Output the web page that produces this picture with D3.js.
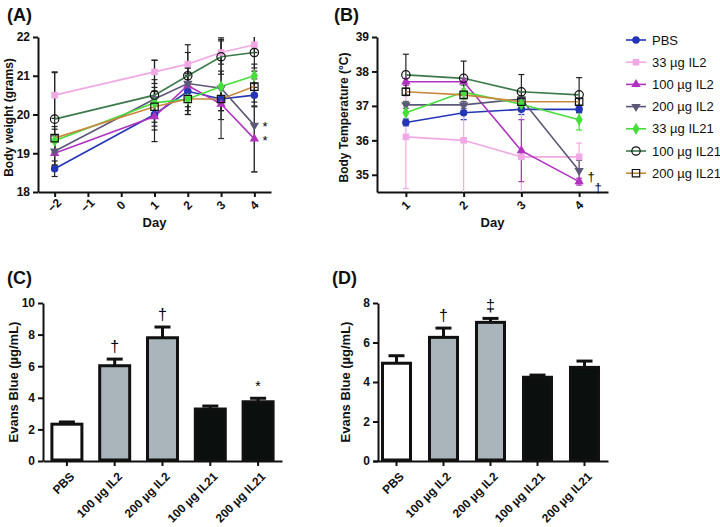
<!DOCTYPE html>
<html>
<head>
<meta charset="utf-8">
<script src="https://cdn.jsdelivr.net/npm/d3@7"></script>
<style>
  body { margin: 0; background: #fff; }
  svg { font-family: "Liberation Sans", Arial, sans-serif; }
  .axis text { font-size: 12px; font-weight: bold; fill: #111; }
  .axis path, .axis line { stroke: #111; stroke-width: 2px; }
  .title { font-weight: bold; fill: #111; }
</style>
</head>
<body>
<script>
// ---- data ----
const seriesNames = ["PBS", "33 µg IL2", "100 µg IL2", "200 µg IL2", "33 µg IL21", "100 µg IL21", "200 µg IL21"]
const seriesColors = ["#2435b6", "#f1a9e5", "#b033c0", "#5c5878", "#45de3a", "#3d7a4b", "#c9883e"]
const seriesShapes = ["circle", "square", "triangle", "triangleDown", "diamond", "openCircle", "openSquare"]

// (A) body weight, days -2,1,2,3,4
const weightDays = [-2, 1, 2, 3, 4]
const weightTicks = [-2, -1, 0, 1, 2, 3, 4]
const weightPBS = [18.6, 20.0, 20.6, 20.4, 20.5]
const weight33IL2 = [20.5, 21.1, 21.3, 21.6, 21.8]
const weight100IL2 = [19.0, 19.95, 20.75, 20.27, 19.37]
const weight200IL2 = [19.05, 20.4, 20.8, 20.68, 19.72]
const weight33IL21 = [19.32, 20.3, 20.4, 20.72, 21.0]
const weight100IL21 = [19.88, 20.5, 21.0, 21.49, 21.6]
const weight200IL21 = [19.39, 20.2, 20.4, 20.4, 20.72]
const weightErrPBS = [0.2, 0.3, 0.6, 0.3, 0.3]
const weightErr33IL2 = [0.6, 0.3, 0.3, 0.3, 0.2]
const weightErr100IL2 = [0.3, 0.65, 0.3, 0.4, 0.85]
const weightErr200IL2 = [0.4, 0.5, 0.4, 1.3, 1.2]
const weightErr33IL21 = [0.3, 0.4, 0.4, 0.4, 0.3]
const weightErr100IL21 = [1.2, 0.9, 0.8, 0.45, 0.4]
const weightErr200IL21 = [0.3, 0.4, 0.3, 0.3, 0.4]

// (B) body temperature, days 1..4
const tempDays = [1, 2, 3, 4]
const tempPBS = [36.52, 36.8, 36.9, 36.9]
const temp33IL2 = [36.1, 36.0, 35.52, 35.52]
const temp100IL2 = [37.7, 37.7, 35.7, 34.8]
const temp200IL2 = [37.03, 37.03, 37.2, 35.12]
const temp33IL21 = [36.8, 37.4, 37.05, 36.6]
const temp100IL21 = [37.9, 37.8, 37.41, 37.32]
const temp200IL21 = [37.41, 37.32, 37.12, 37.12]
const tempErrPBS = [0.1, 0.2, 0.15, 0.1]
const tempErr33IL2 = [1.5, 1.5, 1.7, 0.4]
const tempErr100IL2 = [0.1, 0.1, 0.9, 0.1]
const tempErr200IL2 = [0.1, 0.1, 0.2, 0.3]
const tempErr33IL21 = [0.3, 0.2, 0.2, 0.3]
const tempErr100IL21 = [0.6, 0.5, 0.5, 0.5]
const tempErr200IL21 = [0.1, 0.1, 0.1, 0.1]

// (C), (D) Evans blue
const barGroups = ["PBS", "100 µg IL2", "200 µg IL2", "100 µg IL21", "200 µg IL21"]
const barFills = ["#ffffff", "#a9b5ba", "#a9b5ba", "#0b0f0d", "#0b0f0d"]
const evansC = [2.33, 6.03, 7.8, 3.29, 3.75]
const evansCErr = [0.14, 0.42, 0.68, 0.19, 0.22]
const evansCMarks = ["", "†", "†", "", "*"]
const evansD = [4.95, 6.26, 7.02, 4.24, 4.74]
const evansDErr = [0.38, 0.47, 0.2, 0.11, 0.32]
const evansDMarks = ["", "†", "‡", "", ""]

const weightSeries = [weightPBS, weight33IL2, weight100IL2, weight200IL2, weight33IL21, weight100IL21, weight200IL21]
const weightErrs = [weightErrPBS, weightErr33IL2, weightErr100IL2, weightErr200IL2, weightErr33IL21, weightErr100IL21, weightErr200IL21]
const tempSeries = [tempPBS, temp33IL2, temp100IL2, temp200IL2, temp33IL21, temp100IL21, temp200IL21]
const tempErrs = [tempErrPBS, tempErr33IL2, tempErr100IL2, tempErr200IL2, tempErr33IL21, tempErr100IL21, tempErr200IL21]

const width = 720
const height = 527

const svg = d3.select("body").append("svg")
  .attr("width", width)
  .attr("height", height)

svg.append("rect").attr("width", width).attr("height", height).attr("fill", "#fff")

// marker helper
function drawMarker(g, shape, color) {
  let open = shape === "openCircle" || shape === "openSquare"
  let type = {
    circle: d3.symbolCircle, square: d3.symbolSquare, triangle: d3.symbolTriangle,
    triangleDown: d3.symbolTriangle, diamond: d3.symbolDiamond,
    openCircle: d3.symbolCircle, openSquare: d3.symbolSquare
  }[shape]
  let size = open ? 55 : (shape === "triangle" || shape === "triangleDown" ? 38 : 44)
  g.append("path")
    .attr("d", d3.symbol().type(type).size(size))
    .attr("transform", shape === "triangleDown" ? "rotate(180)" : null)
    .attr("fill", open ? "none" : color)
    .attr("stroke", open ? "#111" : "none")
    .attr("stroke-width", 1.2)
}

function linePanel(opts) {
  let { x, y, days, series, errs, errColors, xTicks, yTicks, yTitle, titleX } = opts
  let g = svg.append("g")

  g.append("g")
    .attr("class", "axis")
    .attr("transform", `translate(0,${y.range()[0]})`)
    .call(d3.axisBottom(x).tickValues(xTicks).tickSize(5).tickSizeOuter(0).tickFormat(d3.format("d")))
    .selectAll("text")
    .attr("y", 0).attr("dy", 0)
    .attr("transform", "translate(0,14) rotate(-45)")
    .style("text-anchor", "middle")
    .attr("dominant-baseline", "middle")

  g.append("g")
    .attr("class", "axis")
    .attr("transform", `translate(${x.range()[0]},0)`)
    .call(d3.axisLeft(y).tickValues(yTicks).tickSize(5).tickSizeOuter(0).tickPadding(3).tickFormat(d3.format("d")))

  let y0 = y.domain()[0], y1 = y.domain()[1]
  let clip = v => Math.max(y0, Math.min(y1, v))

  // error bars
  series.forEach((vals, s) => {
    let eg = g.append("g").attr("stroke", errColors[s]).attr("stroke-width", 1.2)
    vals.forEach((v, i) => {
      let cx = x(days[i])
      let hi = clip(v + errs[s][i]), lo = clip(v - errs[s][i])
      eg.append("line").attr("x1", cx).attr("x2", cx).attr("y1", y(hi)).attr("y2", y(lo))
      ;[hi, lo].forEach(e => {
        if (e > y0 && e < y1) eg.append("line").attr("x1", cx - 3).attr("x2", cx + 3).attr("y1", y(e)).attr("y2", y(e))
      })
    })
  })

  let line = d3.line().x((d, i) => x(days[i])).y(d => y(d))
  series.forEach((vals, s) => {
    g.append("path")
      .datum(vals)
      .attr("d", line)
      .attr("fill", "none")
      .attr("stroke", seriesColors[s])
      .attr("stroke-width", 1.6)
  })
  series.forEach((vals, s) => {
    vals.forEach((v, i) => {
      let m = g.append("g").attr("transform", `translate(${x(days[i])},${y(v)})`)
      drawMarker(m, seriesShapes[s], seriesColors[s])
    })
  })

  g.append("text")
    .attr("class", "title")
    .attr("x", (x.range()[0] + x.range()[1]) / 2)
    .attr("y", 227)
    .attr("text-anchor", "middle")
    .style("font-size", "13px")
    .text("Day")

  g.append("text")
    .attr("class", "title")
    .attr("transform", `translate(${titleX},${(y.range()[0] + y.range()[1]) / 2 + 3}) rotate(-90)`)
    .attr("text-anchor", "middle")
    .style("font-size", "12px")
    .text(yTitle)
  return g
}

function barPanel(opts) {
  let { x, y, values, errs, marks, yTicks, yAxisX, titleX } = opts
  let g = svg.append("g")
  let base = y.range()[0]

  // error bars first (upper only)
  values.forEach((v, i) => {
    let cx = x(barGroups[i]) + x.bandwidth() / 2
    g.append("line").attr("x1", cx).attr("x2", cx).attr("y1", y(v)).attr("y2", y(v + errs[i]))
      .attr("stroke", "#111").attr("stroke-width", 3)
    g.append("line").attr("x1", cx - 8).attr("x2", cx + 8).attr("y1", y(v + errs[i])).attr("y2", y(v + errs[i]))
      .attr("stroke", "#111").attr("stroke-width", 3)
    if (marks[i]) {
      g.append("text")
        .attr("x", cx)
        .attr("y", y(v + errs[i]) - 7)
        .attr("text-anchor", "middle")
        .style("font-size", marks[i] === "*" ? "14px" : "16px")
        .style("fill", "#000")
        .text(marks[i])
    }
  })

  g.selectAll("rect.bar")
    .data(values)
    .join("rect")
    .attr("class", "bar")
    .attr("x", (d, i) => x(barGroups[i]) + 1.5)
    .attr("width", x.bandwidth() - 3)
    .attr("y", d => y(d))
    .attr("height", d => base - y(d) - 1)
    .attr("fill", (d, i) => barFills[i])
    .attr("stroke", "#111")
    .attr("stroke-width", 3)

  g.append("g")
    .attr("class", "axis")
    .attr("transform", `translate(0,${base})`)
    .call(d3.axisBottom(x).tickSize(5).tickSizeOuter(0))
    .selectAll("text")
    .attr("y", 0).attr("dy", 0)
    .attr("transform", "translate(6,14) rotate(-45)")
    .style("text-anchor", "end")
    .attr("dominant-baseline", "middle")

  g.append("g")
    .attr("class", "axis")
    .attr("transform", `translate(${yAxisX},0)`)
    .call(d3.axisLeft(y).tickValues(yTicks).tickSize(5).tickSizeOuter(0).tickPadding(3))

  g.append("text")
    .attr("class", "title")
    .attr("transform", `translate(${titleX},382) rotate(-90)`)
    .attr("text-anchor", "middle")
    .style("font-size", "13px")
    .text("Evans Blue  (µg/mL)")
}

// ---- panel A ----
linePanel({
  x: d3.scaleLinear().domain([-2.5, 4.5]).range([38, 271]),
  y: d3.scaleLinear().domain([18, 22]).range([192, 37]),
  days: weightDays,
  series: weightSeries,
  errs: weightErrs,
  errColors: ["#222", "#222", "#222", "#333", "#222", "#222", "#222"],
  xTicks: weightTicks,
  yTicks: [18, 19, 20, 21, 22],
  yTitle: "Body weight (grams)",
  titleX: 13
})

// ---- panel B ----
linePanel({
  x: d3.scaleLinear().domain([0.5, 4.5]).range([377, 608]),
  y: d3.scaleLinear().domain([34.5, 39]).range([192, 37]),
  days: tempDays,
  series: tempSeries,
  errs: tempErrs,
  errColors: [seriesColors[0], seriesColors[1], seriesColors[2], seriesColors[3], seriesColors[4], "#222", "#222"],
  xTicks: tempDays,
  yTicks: [35, 36, 37, 38, 39],
  yTitle: "Body Temperature (°C)",
  titleX: 348
})

// significance marks on A and B
const yA = d3.scaleLinear().domain([18, 22]).range([192, 37])
const yB = d3.scaleLinear().domain([34.5, 39]).range([192, 37])
;[[weight200IL2[4], "*"], [weight100IL2[4], "*"]].forEach(([v, t]) => {
  svg.append("text").attr("x", 265).attr("y", yA(v) + 6).attr("text-anchor", "middle")
    .style("font-size", "13px").style("fill", "#000").text(t)
})
;[[temp200IL2[3], 591], [temp100IL2[3], 598]].forEach(([v, px]) => {
  svg.append("text").attr("x", px).attr("y", yB(v) + 10).attr("text-anchor", "middle")
    .style("font-size", "13px").style("fill", "#000").text("†")
})

// ---- legend ----
const legend = svg.append("g").attr("transform", "translate(626,40)")
seriesNames.forEach((name, i) => {
  let row = legend.append("g").attr("transform", `translate(0,${i * 22.2})`)
  row.append("line").attr("x1", 0).attr("x2", 20).attr("stroke", seriesColors[i]).attr("stroke-width", 1.6)
  drawMarker(row.append("g").attr("transform", "translate(10,0)"), seriesShapes[i], seriesColors[i])
  row.append("text").attr("x", 26).attr("dy", "0.35em").style("font-size", "13px").style("fill", "#111").text(name)
})

// ---- panel C ----
barPanel({
  x: d3.scaleBand().domain(barGroups).range([43, 282]).paddingInner(0.31).paddingOuter(0.155),
  y: d3.scaleLinear().domain([0, 10]).range([461, 303]),
  values: evansC,
  errs: evansCErr,
  marks: evansCMarks,
  yTicks: [0, 2, 4, 6, 8, 10],
  yAxisX: 43,
  titleX: 18
})

// ---- panel D ----
barPanel({
  x: d3.scaleBand().domain(barGroups).range([373, 608]).paddingInner(0.34).paddingOuter(0.17),
  y: d3.scaleLinear().domain([0, 8]).range([461, 303]),
  values: evansD,
  errs: evansDErr,
  marks: evansDMarks,
  yTicks: [0, 2, 4, 6, 8],
  yAxisX: 378,
  titleX: 350
})

// panel letters
;[["(A)", 7, 21], ["(B)", 334, 21], ["(C)", 7, 284], ["(D)", 332, 284]].forEach(([t, px, py]) => {
  svg.append("text").attr("class", "title").attr("x", px).attr("y", py).style("font-size", "18px").text(t)
})
</script>
</body>
</html>
